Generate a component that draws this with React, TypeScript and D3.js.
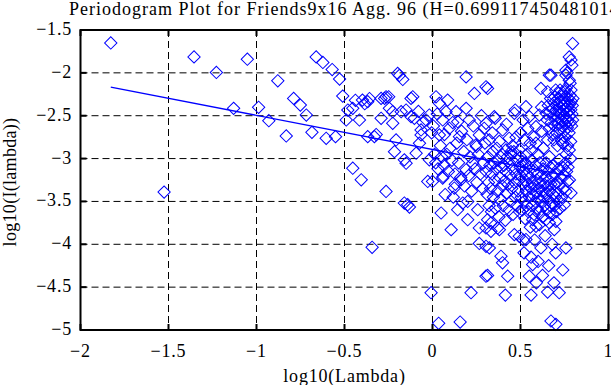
import * as d3 from "d3";

// axis ticks (values are formatted with d3.format, which uses the real minus sign)
const xTicks = [-2, -1.5, -1, -0.5, 0, 0.5, 1];
const yTicks = [-5, -4.5, -4, -3.5, -3, -2.5, -2, -1.5];

const titleText = "Periodogram Plot for Friends9x16 Agg. 96 (H=0.699117450481014)";
const xLabel = "log10(Lambda)";
const yLabel = "log10(I(lambda))";

// least squares fit, end points [log10(lambda), log10(I)]
const fitLine: [number, number][] = [
  [-1.828, -2.166],
  [0.787, -3.208],
];

// periodogram points [log10(lambda), log10(I(lambda))]
const lowFreq: [number, number][] = [
  [-1.828, -1.651], [-1.525, -3.391], [-1.355, -1.814], [-1.228, -1.995], [-1.13, -2.414],
  [-1.052, -1.841], [-0.988, -2.402], [-0.93, -2.558], [-0.879, -2.093], [-0.831, -2.736],
  [-0.789, -2.298], [-0.751, -2.376], [-0.717, -2.492], [-0.685, -2.694], [-0.661, -1.814],
  [-0.623, -1.879], [-0.604, -2.763], [-0.57, -1.961], [-0.551, -2.744], [-0.528, -2.073],
  [-0.51, -2.271], [-0.49, -2.55], [-0.481, -2.434], [-0.453, -3.112],
];

const midLowFreq: [number, number][] = [
  [-0.453, -2.414], [-0.438, -2.32], [-0.405, -3.248], [-0.415, -2.55], [-0.398, -2.318],
  [-0.385, -2.36], [-0.368, -2.744], [-0.368, -2.337], [-0.358, -2.3], [-0.343, -4.035],
  [-0.33, -2.744], [-0.32, -2.72], [-0.292, -2.53], [-0.292, -2.298], [-0.272, -2.298],
  [-0.264, -3.384], [-0.264, -2.279], [-0.249, -2.279], [-0.245, -2.414], [-0.226, -2.588],
  [-0.226, -2.453], [-0.216, -2.919], [-0.207, -2.783], [-0.198, -2.007], [-0.188, -2.03],
  [-0.178, -2.453], [-0.169, -2.077], [-0.16, -3.519], [-0.16, -3.015], [-0.15, -2.434],
  [-0.15, -3.054], [-0.141, -3.538], [-0.131, -3.566], [-0.122, -2.298], [-0.122, -2.511],
  [-0.112, -2.279], [-0.103, -2.53], [-0.093, -2.937], [-0.08, -2.45], [-0.074, -2.821],
  [-0.065, -2.666], [-0.065, -2.724], [-0.055, -2.58], [-0.036, -2.55], [-0.027, -3.267],
  [-0.018, -2.492], [-0.018, -3.015], [-0.008, -4.565], [-0.005, -2.7],
];

const midFreq: [number, number][] = [
  [0.0, -3.267], [0.02, -2.279], [0.035, -4.922], [0.039, -2.356], [0.039, -2.724],
  [0.049, -3.635], [0.058, -2.55], [0.058, -3.228], [0.06, -3.209], [0.077, -2.453],
  [0.086, -2.318], [0.096, -2.647], [0.106, -3.829], [0.124, -3.344], [0.13, -3.3],
  [0.134, -2.453], [0.143, -2.57], [0.143, -3.597], [0.153, -2.744], [0.157, -4.907],
  [0.162, -3.248], [0.172, -3.519], [0.191, -2.047], [0.191, -2.414], [0.191, -3.131],
  [0.2, -3.713], [0.2, -3.5], [0.209, -2.55], [0.219, -4.565], [0.228, -3.054],
  [0.238, -2.24], [0.247, -2.84], [0.25, -2.86], [0.257, -3.597], [0.266, -2.724],
  [0.266, -3.81], [0.266, -3.99], [0.294, -2.647],
  [0.005, -2.62], [0.012, -2.95], [0.018, -3.05], [0.027, -2.48], [0.031, -3.12],
  [0.045, -2.85], [0.052, -2.98], [0.064, -3.08], [0.068, -2.72], [0.072, -3.42],
  [0.081, -2.95], [0.09, -3.15], [0.1, -2.88], [0.11, -3.02], [0.115, -2.58],
  [0.118, -3.45], [0.128, -3.18], [0.138, -2.82], [0.148, -3.05], [0.16, -3.22],
  [0.165, -2.68], [0.178, -2.92], [0.182, -3.32], [0.195, -2.78], [0.205, -3.2],
  [0.213, -2.98], [0.222, -3.38], [0.232, -2.62], [0.242, -3.12], [0.252, -3.28],
  [0.26, -2.95], [0.272, -3.18], [0.278, -2.5], [0.285, -3.35], [0.29, -3.05], [0.298, -2.82],
];

const upperMidFreq: [number, number][] = [
  [0.304, -2.163], [0.313, -2.182], [0.304, -2.588], [0.323, -2.783], [0.351, -2.511],
  [0.356, -2.53], [0.398, -2.666], [0.418, -2.899], [0.436, -2.763], [0.446, -2.957],
  [0.465, -2.472], [0.47, -2.434], [0.493, -2.899], [0.34, -2.7], [0.38, -2.8],
  [0.42, -2.6], [0.475, -2.75], [0.455, -2.85], [0.5, -2.98], [0.446, -2.92],
];

const lowerMidFreq: [number, number][] = [
  [0.313, -4.364], [0.323, -4.042], [0.332, -3.849], [0.332, -3.751], [0.313, -3.713],
  [0.37, -3.81], [0.38, -3.829], [0.389, -4.14], [0.398, -4.216], [0.414, -4.593],
  [0.427, -4.372], [0.465, -3.887], [0.493, -3.907], [0.304, -4.023], [0.304, -4.372],
  [0.304, -3.81],
  [0.305, -3.15], [0.31, -3.42], [0.315, -2.98], [0.318, -3.28], [0.322, -3.55],
  [0.326, -3.08], [0.33, -3.35], [0.335, -3.62], [0.338, -3.18], [0.342, -2.92],
  [0.346, -3.45], [0.35, -3.05], [0.354, -3.25], [0.358, -3.58], [0.362, -3.12],
  [0.366, -2.88], [0.37, -3.38], [0.374, -3.02], [0.378, -3.68], [0.382, -3.22],
  [0.386, -3.48], [0.39, -3.1], [0.394, -2.95], [0.398, -3.32], [0.402, -3.55],
  [0.406, -3.08], [0.41, -3.26], [0.414, -3.72], [0.418, -3.15], [0.422, -3.4],
  [0.426, -2.98], [0.43, -3.3], [0.434, -3.6], [0.438, -3.05], [0.442, -3.2],
  [0.446, -3.5], [0.45, -3.35], [0.454, -3.12], [0.458, -3.65], [0.462, -2.92],
  [0.466, -3.28], [0.47, -3.45], [0.474, -3.18], [0.478, -3.55], [0.482, -3.02],
  [0.486, -3.38], [0.49, -3.25], [0.494, -3.62], [0.498, -3.1],
];

const highPeaks: [number, number][] = [
  [0.796, -1.658], [0.777, -1.814], [0.787, -1.85], [0.792, -1.911], [0.758, -1.969],
  [0.765, -2.0], [0.758, -2.027], [0.777, -2.085], [0.782, -2.12], [0.787, -2.201],
  [0.673, -2.027], [0.664, -2.027], [0.616, -2.182], [0.654, -2.221], [0.531, -2.395],
];

const highUpper: [number, number][] = [
  [0.645, -2.472], [0.652, -2.55], [0.658, -2.38], [0.662, -2.65], [0.667, -2.45],
  [0.671, -2.3], [0.675, -2.58], [0.679, -2.72], [0.683, -2.42], [0.686, -2.5],
  [0.69, -2.35], [0.693, -2.62], [0.696, -2.28], [0.699, -2.55], [0.702, -2.44],
  [0.705, -2.7], [0.708, -2.36], [0.711, -2.52], [0.714, -2.6], [0.716, -2.3],
  [0.719, -2.46], [0.722, -2.4], [0.724, -2.66], [0.727, -2.33], [0.729, -2.54],
  [0.732, -2.48], [0.734, -2.25], [0.737, -2.62], [0.739, -2.38], [0.741, -2.57],
  [0.744, -2.44], [0.746, -2.3], [0.748, -2.68], [0.75, -2.5], [0.752, -2.36],
  [0.754, -2.42], [0.756, -2.6], [0.758, -2.27], [0.76, -2.53], [0.762, -2.47],
  [0.764, -2.34], [0.766, -2.64], [0.768, -2.4], [0.77, -2.56], [0.772, -2.3],
  [0.774, -2.45], [0.776, -2.7], [0.778, -2.37], [0.78, -2.5], [0.782, -2.26],
  [0.784, -2.58], [0.786, -2.43], [0.788, -2.33], [0.79, -2.62], [0.792, -2.48],
  [0.794, -2.38], [0.796, -2.55], [0.798, -2.3], [0.73, -2.78], [0.74, -2.82],
  [0.755, -2.75], [0.768, -2.85], [0.777, -2.899], [0.739, -2.821], [0.72, -3.015],
  [0.71, -2.85], [0.76, -2.95], [0.785, -2.8], [0.69, -2.78], [0.7, -2.2],
  [0.725, -2.2], [0.75, -2.22], [0.715, -2.24], [0.76, -2.18],
  [0.5, -2.7], [0.512, -3.035], [0.522, -2.783], [0.55, -2.511], [0.588, -2.628],
  [0.588, -2.821], [0.607, -2.492], [0.654, -2.783], [0.664, -2.977], [0.541, -2.65],
  [0.565, -2.9], [0.575, -2.75], [0.6, -2.95], [0.62, -2.68], [0.63, -2.88],
  [0.515, -2.55], [0.535, -2.95], [0.555, -2.82], [0.62, -2.4],
];

const highLower: [number, number][] = [
  [0.531, -3.945], [0.569, -3.713], [0.588, -3.79], [0.607, -3.771], [0.645, -3.713],
  [0.664, -3.635], [0.673, -3.558], [0.692, -3.829], [0.701, -3.733], [0.72, -3.5],
  [0.749, -3.538], [0.758, -3.384], [0.768, -3.267], [0.787, -3.403], [0.616, -4.042],
  [0.758, -4.042], [0.56, -4.151], [0.569, -4.236], [0.55, -4.372], [0.625, -4.364],
  [0.56, -4.593], [0.654, -4.558], [0.72, -4.565], [0.673, -4.895], [0.701, -4.934],
  [0.502, -3.2], [0.505, -3.45], [0.508, -3.08], [0.511, -3.6], [0.514, -3.3],
  [0.517, -3.15], [0.52, -3.5], [0.523, -3.25], [0.526, -3.7], [0.529, -3.05],
  [0.532, -3.38], [0.535, -3.55], [0.538, -3.18], [0.541, -3.3], [0.544, -3.62],
  [0.547, -3.1], [0.55, -3.45], [0.553, -3.22], [0.556, -3.8], [0.559, -3.35],
  [0.562, -3.02], [0.565, -3.55], [0.568, -3.28], [0.571, -3.42], [0.574, -3.15],
  [0.577, -3.65], [0.58, -3.32], [0.583, -3.5], [0.586, -3.08], [0.589, -3.4],
  [0.592, -3.25], [0.595, -3.58], [0.598, -3.18], [0.601, -3.45], [0.604, -3.35],
  [0.607, -3.62], [0.61, -3.05], [0.613, -3.28], [0.616, -3.5], [0.619, -3.2],
  [0.622, -3.38], [0.625, -3.68], [0.628, -3.12], [0.631, -3.45], [0.634, -3.3],
  [0.637, -3.55], [0.64, -3.22], [0.643, -3.4], [0.646, -3.05], [0.649, -3.6],
  [0.652, -3.32], [0.655, -3.15], [0.658, -3.48], [0.661, -3.25], [0.664, -3.75],
  [0.667, -3.38], [0.67, -3.1], [0.673, -3.3], [0.676, -3.52], [0.679, -3.2],
  [0.682, -3.65], [0.685, -3.42], [0.688, -3.08], [0.691, -3.3], [0.694, -3.55],
  [0.697, -3.18], [0.7, -3.45], [0.704, -3.62], [0.708, -3.28], [0.712, -3.4],
  [0.716, -3.12], [0.72, -3.3], [0.725, -3.58], [0.73, -3.22], [0.735, -3.45],
  [0.74, -3.1], [0.745, -3.35], [0.75, -3.2], [0.755, -3.05], [0.762, -3.15],
  [0.77, -3.1], [0.778, -3.25], [0.785, -3.0],
  [0.516, -3.95], [0.58, -3.95], [0.64, -3.9], [0.68, -4.0], [0.52, -4.1],
  [0.6, -4.2], [0.66, -4.25], [0.7, -4.1], [0.74, -4.3], [0.59, -4.45], [0.69, -4.45],
];

const allPoints = [
  ...lowFreq,
  ...midLowFreq,
  ...midFreq,
  ...upperMidFreq,
  ...lowerMidFreq,
  ...highPeaks,
  ...highUpper,
  ...highLower,
];

const W = 611;
const H = 385;
const font = "'Liberation Serif', 'Times New Roman', serif";

export default function App() {
  const x = d3.scaleLinear().domain([-2, 1]).range([80.5, 608.5]);
  const y = d3.scaleLinear().domain([-5, -1.5]).range([330, 30]);
  const fmt = d3.format("~g");
  const diamond = d3.symbol(d3.symbolSquare, 76)() as string;
  const fit = d3
    .line<[number, number]>()
    .x((d) => x(d[0]))
    .y((d) => y(d[1]))(fitLine) as string;

  const [x0, x1] = x.range();
  const [yb, yt] = y.range();
  const tick = 6;

  return (
    <svg
      width={W}
      height={H}
      style={{ position: "absolute", left: 0, top: 0, background: "#fff" }}
      fontFamily={font}
    >
      {/* grid */}
      <g stroke="#000" strokeWidth={1} strokeDasharray="7,4">
        {xTicks.slice(1, -1).map((t) => (
          <line key={"gx" + t} x1={x(t)} x2={x(t)} y1={yt} y2={yb} />
        ))}
        {yTicks.slice(1, -1).map((t) => (
          <line key={"gy" + t} x1={x0} x2={x1} y1={y(t)} y2={y(t)} />
        ))}
      </g>

      {/* points */}
      <g fill="none" stroke="#0000ff" strokeWidth={1}>
        {allPoints.map((d, i) => (
          <path
            key={i}
            d={diamond}
            transform={`translate(${x(d[0])},${y(d[1])}) rotate(45)`}
          />
        ))}
      </g>

      {/* fit line */}
      <path d={fit} fill="none" stroke="#0000ff" strokeWidth={1.4} />

      {/* ticks */}
      <g stroke="#000" strokeWidth={2}>
        {xTicks.map((t) => (
          <g key={"tx" + t}>
            <line x1={x(t)} x2={x(t)} y1={yb} y2={yb - tick} />
            <line x1={x(t)} x2={x(t)} y1={yt} y2={yt + tick} />
          </g>
        ))}
        {yTicks.map((t) => (
          <g key={"ty" + t}>
            <line x1={x0} x2={x0 + tick} y1={y(t)} y2={y(t)} />
            <line x1={x1} x2={x1 - tick} y1={y(t)} y2={y(t)} />
          </g>
        ))}
      </g>

      {/* frame */}
      <rect x={x0} y={yt} width={x1 - x0} height={yb - yt} fill="none" stroke="#000" strokeWidth={2} />

      {/* tick labels */}
      <g fontSize={18} fill="#000" letterSpacing={0.8}>
        {xTicks.map((t) => (
          <text key={"lx" + t} x={x(t)} y={357} textAnchor="middle">
            {fmt(t)}
          </text>
        ))}
        {yTicks.map((t) => (
          <text key={"ly" + t} x={72} y={y(t) + 5} textAnchor="end">
            {fmt(t)}
          </text>
        ))}
      </g>

      {/* titles */}
      <text x={69} y={15} fontSize={18} letterSpacing={1} fill="#000">
        {titleText}
      </text>
      <text x={344.5} y={382} fontSize={18} letterSpacing={0.8} textAnchor="middle" fill="#000">
        {xLabel}
      </text>
      <text
        transform={`translate(16,182) rotate(-90)`}
        fontSize={18}
        letterSpacing={0.3}
        textAnchor="middle"
        fill="#000"
      >
        {yLabel}
      </text>
    </svg>
  );
}
